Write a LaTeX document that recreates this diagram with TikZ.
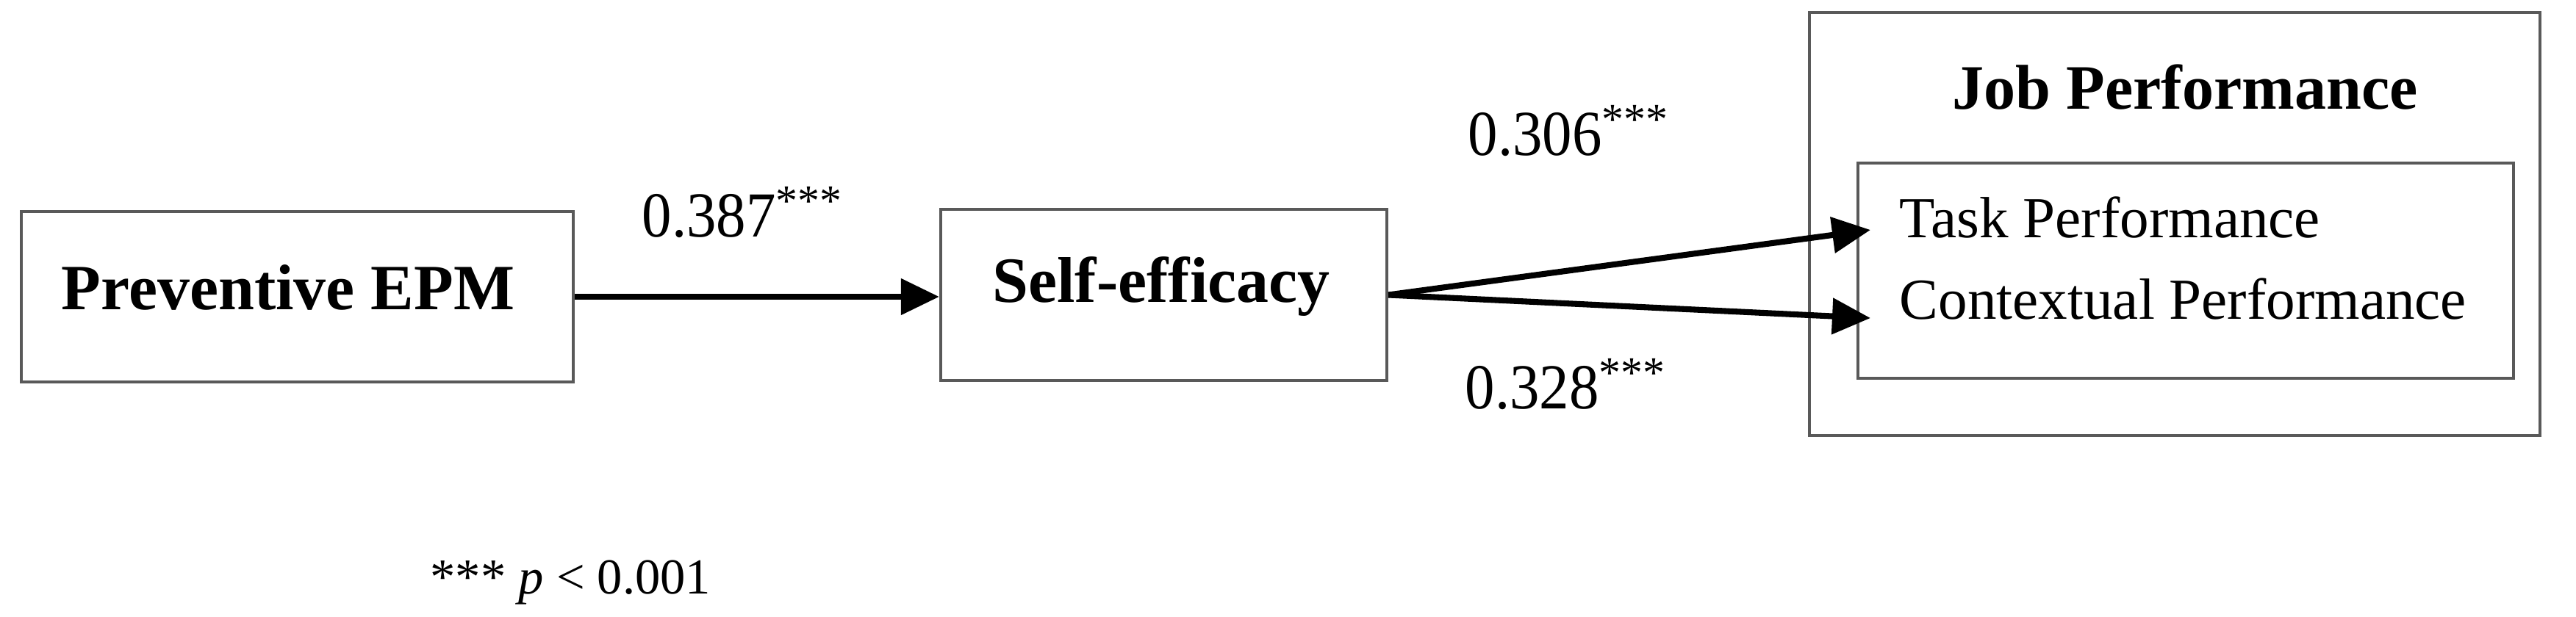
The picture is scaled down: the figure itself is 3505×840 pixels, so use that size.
\documentclass[tikz,border=0pt]{standalone}
\usepackage{fontspec}
\setmainfont{Liberation Serif}
\usetikzlibrary{arrows.meta}
\newcommand{\stars}{\raisebox{0.36em}{\fontsize{17pt}{20pt}\selectfont ***}}
\begin{document}
\begin{tikzpicture}[x=0.01cm,y=-0.01cm,
  box/.style={draw=black!65, line width=1.1pt, inner sep=0pt, fill=white},
  lbl/.style={anchor=base, inner sep=0pt, font=\fontsize{25pt}{30pt}\selectfont\bfseries},
  sub/.style={anchor=base west, inner sep=0pt, font=\fontsize{22.5pt}{27pt}\selectfont},
  num/.style={anchor=base west, inner sep=0pt, font=\fontsize{23pt}{28pt}\selectfont},
  arr/.style={line width=2.3pt, -{Triangle[length=0.52cm,width=0.48cm]}}]
\useasboundingbox (0,0) rectangle (3505,840);
% boxes
\node[box, minimum width=7.51cm, minimum height=2.32cm] (pepm) at (404.5,404) {};
\node[lbl] (pepmT) at (392,422) {Preventive EPM};
\node[box, minimum width=6.07cm, minimum height=2.33cm] (se) at (1583.5,401.5) {};
\node[lbl] (seT) at (1580,412) {Self-efficacy};
\node[box, minimum width=9.94cm, minimum height=5.76cm] (jp) at (2959,305) {};
\node[lbl, font=\fontsize{24.5pt}{29pt}\selectfont\bfseries] (jpT) at (2973,149) {Job Performance};
\node[box, minimum width=8.92cm, minimum height=2.93cm] (inner) at (2974,368.5) {};
\node[sub] (task) at (2584,324) {Task Performance};
\node[sub] (ctx) at (2584,435) {Contextual Performance};
% arrow ends
\coordinate (tA) at (2545,313);
\coordinate (tB) at (2545,433);
\draw[arr] (pepm.east) -- (pepm.east -| se.west);
\draw[arr] (se.east) -- (tA);
\draw[arr] (se.east) -- (tB);
% coefficients
\node[num] (c1) at (873,323) {\scalebox{1}[1.08]{0.387}\stars};
\node[num] (c2) at (1997,212) {\scalebox{1}[1.08]{0.306}\stars};
\node[num] (c3) at (1993,557) {\scalebox{1}[1.08]{0.328}\stars};
% footnote
\node[anchor=base west, inner sep=0pt, font=\fontsize{19.5pt}{24pt}\selectfont] (note) at (585,808) {*** \textit{p} < 0.001};
\end{tikzpicture}
\end{document}
